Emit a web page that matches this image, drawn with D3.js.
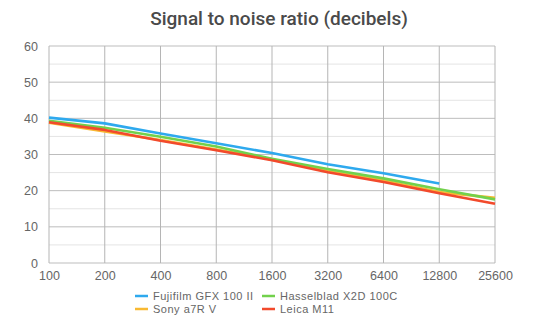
<!DOCTYPE html>
<html>
<head>
<meta charset="utf-8">
<script src="https://cdn.jsdelivr.net/npm/d3@7"></script>
<style>
  html, body { margin: 0; padding: 0; background: #fff; }
  svg { display: block; }
</style>
</head>
<body>
<svg id="chart" width="534" height="324"></svg>
<script>
// ISO sensitivity steps (x axis) and SNR readings in dB per camera
const isoLabels = ["100", "200", "400", "800", "1600", "3200", "6400", "12800", "25600"];
const yTicks = [0, 10, 20, 30, 40, 50, 60];

const fujifilm   = [40.2, 38.6, 35.8, 33.1, 30.4, 27.3, 24.8, 22.0];
const hasselblad = [39.3, 37.4, 34.9, 32.2, 28.8, 26.0, 23.4, 20.4, 17.6];
const sony       = [38.8, 36.4, 34.0, 31.4, 28.6, 25.4, 22.8, 19.6, 18.0];
const leica      = [38.9, 36.8, 33.8, 31.2, 28.4, 25.1, 22.4, 19.3, 16.4];

const seriesNames = ["Fujifilm GFX 100 II", "Hasselblad X2D 100C", "Sony a7R V", "Leica M11"];
const seriesColors = ["#2ea9ee", "#72d14c", "#f8b932", "#f24a2c"];
const seriesValues = [fujifilm, hasselblad, sony, leica];

const svg = d3.select("#chart");
const plotLeft = 49, plotRight = 495, plotTop = 46, plotBottom = 263;

const x = d3.scalePoint().domain(isoLabels).range([plotLeft, plotRight]);
const y = d3.scaleLinear().domain([0, 60]).range([plotBottom, plotTop]);

const labelFont = "'Liberation Sans', Arial, sans-serif";
const labelColor = "#666";

// title
svg.append("text")
  .attr("x", 279).attr("y", 25)
  .attr("text-anchor", "middle")
  .attr("font-family", "Roboto, sans-serif")
  .attr("font-weight", 500)
  .attr("font-size", 19)
  .attr("fill", "#4a4a4a")
  .text("Signal to noise ratio (decibels)");

// minor horizontal grid (every 5 dB)
const minor = d3.range(5, 60, 10);
svg.append("g").selectAll("line").data(minor).join("line")
  .attr("x1", plotLeft).attr("x2", plotRight)
  .attr("y1", d => y(d)).attr("y2", d => y(d))
  .attr("stroke", "#e4e4e4").attr("stroke-width", 1);

// major horizontal grid
svg.append("g").selectAll("line").data(yTicks).join("line")
  .attr("x1", plotLeft).attr("x2", plotRight)
  .attr("y1", d => y(d)).attr("y2", d => y(d))
  .attr("stroke", "#bdbdbd").attr("stroke-width", 1);

// vertical grid at each ISO step
svg.append("g").selectAll("line").data(isoLabels).join("line")
  .attr("x1", d => x(d)).attr("x2", d => x(d))
  .attr("y1", plotTop).attr("y2", plotBottom)
  .attr("stroke", "#b5b5b5").attr("stroke-width", 1);

// y axis labels
const yAxis = d3.axisLeft(y).tickValues(yTicks).tickSize(0).tickPadding(11);
const gy = svg.append("g").attr("transform", `translate(${plotLeft},0)`).call(yAxis);
gy.select(".domain").remove();
gy.selectAll("text")
  .attr("font-family", labelFont)
  .attr("font-size", 12.5).attr("fill", labelColor);

// x axis labels
const xAxis = d3.axisBottom(x).tickSize(0).tickPadding(8);
const gx = svg.append("g").attr("transform", `translate(0,${plotBottom})`).call(xAxis);
gx.select(".domain").remove();
gx.selectAll("text")
  .attr("font-family", labelFont)
  .attr("font-size", 12.5).attr("fill", labelColor);

// series lines
const line = d3.line()
  .x((d, i) => x(isoLabels[i]))
  .y(d => y(d));

const drawOrder = [2, 1, 3, 0];
drawOrder.forEach(k => {
  svg.append("path")
    .datum(seriesValues[k])
    .attr("fill", "none")
    .attr("stroke", seriesColors[k])
    .attr("stroke-width", 2.6)
    .attr("stroke-linejoin", "round")
    .attr("d", line);
});

// legend, two columns by two rows
const legendX = [135, 262];
const legendY = [296, 309];
const legend = svg.append("g");
seriesNames.forEach((name, i) => {
  const lx = legendX[i % 2], ly = legendY[Math.floor(i / 2)];
  legend.append("line")
    .attr("x1", lx).attr("x2", lx + 13)
    .attr("y1", ly).attr("y2", ly)
    .attr("stroke", seriesColors[i]).attr("stroke-width", 2.5);
  legend.append("text")
    .attr("x", lx + 18).attr("y", ly + 4)
    .attr("font-family", labelFont)
    .attr("font-size", 11).attr("letter-spacing", 0.5)
    .attr("fill", labelColor)
    .text(name);
});
</script>
</body>
</html>
